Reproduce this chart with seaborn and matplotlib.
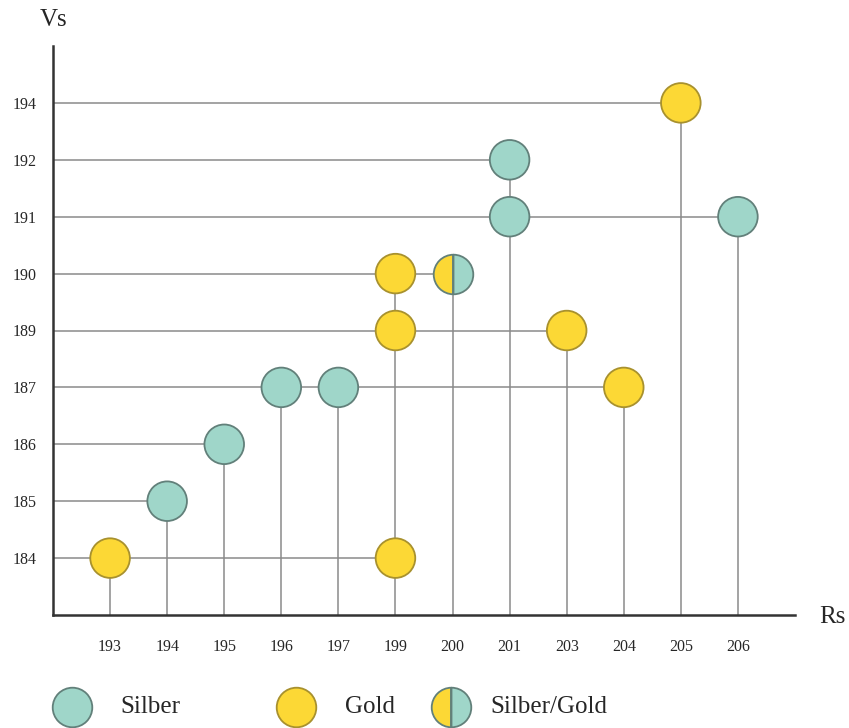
import numpy as np
import pandas as pd
import matplotlib
matplotlib.use('Agg')
import matplotlib.pyplot as plt
import seaborn as sns

# Kategorien der Achsen (gleichmäßig verteilt)
rs_labels = [193, 194, 195, 196, 197, 199, 200, 201, 203, 204, 205, 206]
vs_labels = [184, 185, 186, 187, 189, 190, 191, 192, 194]

# Punkte: Rs, Vs, Art
silber_rs = [194, 195, 196, 197, 201, 201, 206]
silber_vs = [185, 186, 187, 187, 191, 192, 191]
gold_rs = [193, 199, 199, 199, 203, 204, 205]
gold_vs = [184, 184, 189, 190, 189, 187, 194]
mix_rs = [200]
mix_vs = [190]

silber_col = '#9fd6c9'
silber_edge = '#62807a'
gold_col = '#fcd835'
gold_edge = '#a8912e'
line_col = '#8a8a8a'

df = pd.DataFrame({
    'Rs': silber_rs + gold_rs + mix_rs,
    'Vs': silber_vs + gold_vs + mix_vs,
    'Art': ['Silber'] * len(silber_rs) + ['Gold'] * len(gold_rs) + ['Silber/Gold'] * len(mix_rs),
})
df['x'] = df['Rs'].map({v: i for i, v in enumerate(rs_labels)})
df['y'] = df['Vs'].map({v: i for i, v in enumerate(vs_labels)})

sns.set_style('white')
plt.rcParams['font.family'] = ['Liberation Serif', 'DejaVu Serif']

fig = plt.figure(figsize=(8.49, 7.28), dpi=100)
ax = fig.add_axes([53 / 849, 1 - 615 / 728, (795 - 53) / 849, (615 - 46) / 728])

# Hilfslinien: waagerecht bis zum rechtesten Punkt, senkrecht bis zum obersten
hmax = df.groupby('y')['x'].max()
ax.hlines(hmax.index, -1, hmax.values, color=line_col, lw=1.1, zorder=1)
vmax = df.groupby('x')['y'].max()
ax.vlines(vmax.index, -1, vmax.values, color=line_col, lw=1.1, zorder=1)

ms = 28.5
sub = df[df['Art'] != 'Silber/Gold']
sns.scatterplot(data=sub, x='x', y='y', hue='Art',
                palette={'Silber': silber_col, 'Gold': gold_col},
                s=ms ** 2, linewidth=1.3, legend=False, ax=ax, zorder=3)
# Randfarben je Art
coll = ax.collections[-1]
coll.set_edgecolor([silber_edge if a == 'Silber' else gold_edge for a in sub['Art']])

mix = df[df['Art'] == 'Silber/Gold']
ax.plot(mix['x'], mix['y'], 'o', ms=ms, fillstyle='left',
        markerfacecolor=gold_col, markerfacecoloralt=silber_col,
        markeredgecolor=silber_edge, mew=1.3, zorder=3)
ax.plot(mix['x'], mix['y'], '|', ms=ms, color=silber_edge, mew=1.3, zorder=4)

ax.set_xlim(-1, 12)
ax.set_ylim(-1, 9)
ax.set_xticks(range(len(rs_labels)))
ax.set_xticklabels(rs_labels, fontsize=11.5)
ax.set_yticks(range(len(vs_labels)))
ax.set_yticklabels(vs_labels, fontsize=11.5)
ax.tick_params(axis='x', length=0, pad=17)
ax.tick_params(axis='y', length=0, pad=12)
ax.set_xlabel('')
ax.set_ylabel('')
for s in ['top', 'right']:
    ax.spines[s].set_visible(False)
for s in ['left', 'bottom']:
    ax.spines[s].set_color('#333333')
    ax.spines[s].set_linewidth(1.8)
    ax.spines[s].set_zorder(5)

fig.text(40 / 849, 1 - 20 / 728, 'Vs', fontsize=18, ha='left', va='center')
fig.text(819 / 849, 1 - 617 / 728, 'Rs', fontsize=18, ha='left', va='center')

# Legende unten
lax = fig.add_axes([0, 0, 1, 60 / 728])
lax.set_xlim(0, 849)
lax.set_ylim(0, 60)
lax.axis('off')
ly = 21
lax.plot([72], [ly], 'o', ms=ms, markerfacecolor=silber_col, markeredgecolor=silber_edge, mew=1.3)
lax.text(120, ly, 'Silber', fontsize=18, va='center')
lax.plot([296], [ly], 'o', ms=ms, markerfacecolor=gold_col, markeredgecolor=gold_edge, mew=1.3)
lax.text(345, ly, 'Gold', fontsize=18, va='center')
lax.plot([451], [ly], 'o', ms=ms, fillstyle='left', markerfacecolor=gold_col,
         markerfacecoloralt=silber_col, markeredgecolor=silber_edge, mew=1.3)
lax.plot([451], [ly], '|', ms=ms, color=silber_edge, mew=1.3)
lax.text(490, ly, 'Silber/Gold', fontsize=18, va='center')

fig.savefig('out.png', dpi=100)
